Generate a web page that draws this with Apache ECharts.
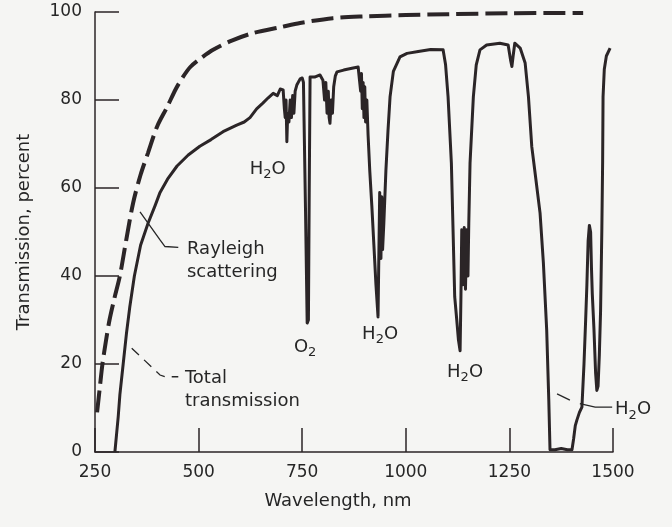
<!DOCTYPE html>
<html><head><meta charset="utf-8">
<script src="https://cdn.jsdelivr.net/npm/echarts@6/dist/echarts.min.js"></script>
<style>html,body{margin:0;padding:0;background:#f5f5f3}#c{width:672px;height:527px}</style>
</head><body><div id="c"></div>
<script>
// Wavelength (nm) vs transmission (%)
const xTickValues = [250, 500, 750, 1000, 1250, 1500];
const yTickValues = [0, 20, 40, 60, 80, 100];

const rayleigh = [
  [255,9],[262,15],[268,20],[276,25],[285,30],[297,35],[310,40],[325,48],[342,56.6],[360,63],
  [378,68],[400,74],[424,78.4],[445,82.5],[462,85.2],[480,87.5],[503,89.3],[535,91.4],[580,93.5],
  [631,95.2],[700,96.6],[745,97.5],[824,98.6],[900,99],[1000,99.3],[1100,99.5],[1250,99.7],[1428,99.8]
];

const total = [
  [298,0],[302,4],[306,8],[310,13],[318,20],[326,27],[334,33],[345,40],[360,47],[378,52],[395,56],
  [407,59],[425,62],[448,65],[475,67.5],[503,69.5],[530,71],[559,72.8],[592,74.3],[610,75],[624,76],
  [640,78],[655,79.3],[668,80.5],[680,81.5],[690,81],[697,82.5],[704,82.3],
  [707,78],[709,76],[711,80],[713,70.5],[715,77],[718,75],[721,80],[724,76],[727,81],[730,77],[733,82],
  [737,83.4],[745,84.8],[750,85],[753,84],[758,55],[762,29.3],[765,30],[767,60],[769,85.2],
  [780,85.2],[793,85.7],[800,84.5],[804,80],[807,84],[810,77],[813,82],[815,76],[817,74.7],[820,80],
  [823,77],[826,83],[830,85.5],[834,86.4],[850,86.8],[870,87.2],[885,87.5],[889,87.3],
  [891,82],[893,86],[895,78],[897,84],[899,76],[901,83],[903,75],[906,80],[909,72],[913,64],[918,56],
  [923,47],[928,38],[933,30.7],[935,45],[937,59],[940,44],[942,58],[944,46],[947,52],[952,64],[957,73],
  [962,80.7],[970,86.5],[986,89.8],[1003,90.6],[1030,91],[1060,91.5],[1090,91.4],
  [1096,88],[1102,80.7],[1110,65.6],[1114,50.5],[1118,35.3],[1123,30],[1127,25.5],[1131,23],[1133,35],
  [1135,50.5],[1138,38],[1141,51],[1144,37],[1147,50.5],[1150,40],[1152,52],[1155,65.6],[1163,80.7],
  [1170,88],[1179,91.4],[1195,92.5],[1227,92.9],[1247,92.5],[1253,89],[1256,87.6],[1259,90],[1263,92.9],
  [1276,91.8],[1288,88.4],[1296,80.7],[1304,69.4],[1312,63.4],[1324,54.3],[1332,43],[1340,27.7],
  [1345,12],[1348,0.5],[1360,0.5],[1375,0.8],[1390,0.5],[1401,0.5],[1405,3],[1409,6],[1413,7.3],
  [1419,9],[1425,10.2],[1430,20],[1434,30],[1437,38],[1440,48],[1443,51.5],[1446,50],[1448,42],
  [1450,36],[1454,28],[1458,18],[1461,14],[1464,15],[1467,22],[1470,32],[1473,50],[1475,66],
  [1476,80.7],[1479,87],[1484,90],[1493,91.8]
];

// annotation anchors in data units
const labelTexts = ['H{s|2}O', 'O{s|2}', 'H{s|2}O', 'H{s|2}O', 'H{s|2}O', 'Rayleigh\nscattering', 'Total\ntransmission'];
const labelAnchors = [[667,64.3],[757,23.8],[938,26.8],[1143,18.1],[1505,9.6],[472,43.5],[467,14.2]];
const rayleighLeader = [[358.6,54.6],[406.9,48.2],[418.9,46.7],[451,46.5]];
const totalLeader = [[338.6,23.6],[406.9,17.5],[418.9,17.1],[451,17.1]];
const waterLeaderA = [[1365,13.2],[1396,11.8]];
const waterLeaderB = [[1420,11],[1457,10.2],[1498,10.2]];

const ink = '#2b2527';
const textCol = '#262626';
const font = 'DejaVu Sans';

const chart = echarts.init(document.getElementById('c'));
chart.setOption({
  backgroundColor: '#f5f5f3',
  animation: false,
  grid: {left: 95, right: 59, top: 12, bottom: 75, containLabel: false},
  xAxis: {
    type: 'value', min: xTickValues[0], max: xTickValues[xTickValues.length-1],
    interval: xTickValues[1]-xTickValues[0],
    axisLine: {show: true, lineStyle: {color: ink, width: 1.5}},
    axisTick: {show: true, inside: true, length: 24, lineStyle: {color: ink, width: 1.5}},
    axisLabel: {margin: 12, fontSize: 17, color: textCol, fontFamily: font, formatter: v => String(v)},
    splitLine: {show: false},
    name: 'Wavelength, nm', nameLocation: 'middle', nameGap: 40,
    nameTextStyle: {fontSize: 18, color: textCol, fontFamily: font, padding: [0, 32, 0, 0]}
  },
  yAxis: {
    type: 'value', min: yTickValues[0], max: yTickValues[yTickValues.length-1],
    interval: yTickValues[1]-yTickValues[0],
    axisLine: {show: true, lineStyle: {color: ink, width: 1.5}},
    axisTick: {show: true, inside: true, length: 24, lineStyle: {color: ink, width: 1.5}},
    axisLabel: {margin: 13, fontSize: 17, color: textCol, fontFamily: font, formatter: v => String(v)},
    splitLine: {show: false},
    name: 'Transmission, percent', nameLocation: 'middle', nameGap: 62, nameRotate: 90,
    nameTextStyle: {fontSize: 18, color: textCol, fontFamily: font}
  },
  series: [
    {type: 'line', name: 'Rayleigh scattering', data: rayleigh, showSymbol: false, smooth: 0.3,
     lineStyle: {type: [22, 7], width: 4, color: ink, cap: 'butt'}, z: 2},
    {type: 'line', name: 'Total transmission', data: total, showSymbol: false,
     lineStyle: {width: 3, color: ink, join: 'round'}, z: 3}
  ]
});

const px = p => chart.convertToPixel({gridIndex: 0}, p);
const graphics = [];
labelTexts.forEach((t, i) => {
  const p = px(labelAnchors[i]);
  const left = i >= 4;
  graphics.push({type: 'text', x: p[0], y: p[1], z: 10, style: {
    text: t, fill: textCol, fontFamily: font, fontSize: 18, align: left ? 'left' : 'center',
    verticalAlign: 'middle', lineHeight: 23,
    rich: {s: {fontSize: 13, fontFamily: font, fill: textCol, lineHeight: 13, padding: [11, 0, 0, 0]}}}});
});
[[rayleighLeader, null], [totalLeader, [10, 7]], [waterLeaderA, null], [waterLeaderB, null]].forEach(([pts, dash]) => {
  graphics.push({type: 'polyline', z: 10, shape: {points: pts.map(px)},
    style: {stroke: textCol, lineWidth: 1.3, fill: null, lineDash: dash}});
});
chart.setOption({graphic: graphics});
</script>
</body></html>
